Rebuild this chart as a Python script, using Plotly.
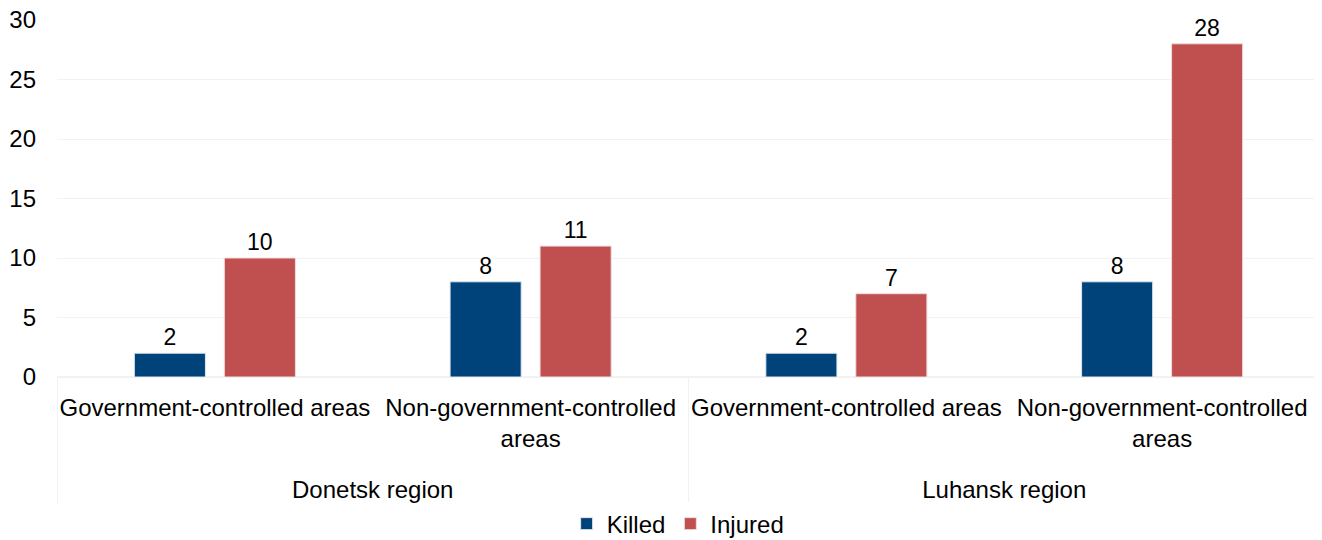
import plotly.graph_objects as go

regions = ["<br>Donetsk region", "<br>Donetsk region", "<br>Luhansk region", "<br>Luhansk region"]
areas = ["Government-controlled areas", "Non-government-controlled<br>areas",
         "Government-controlled areas", "Non-government-controlled<br>areas"]
killed = [2, 8, 2, 8]
injured = [10, 11, 7, 28]

fig = go.Figure()
fig.add_trace(go.Bar(
    x=[regions, areas], y=killed, name="Killed",
    marker=dict(color="#00437A", line=dict(color="#DDE6F0", width=1)),
    text=killed, textposition="outside", cliponaxis=False,
    textfont=dict(size=23),
))
fig.add_trace(go.Bar(
    x=[regions, areas], y=injured, name="Injured",
    marker=dict(color="#C0504F", line=dict(color="#F0DCDC", width=1)),
    text=injured, textposition="outside", cliponaxis=False,
    textfont=dict(size=23),
))

# page body has an 8px margin, so the figure is sized/offset to fill the window
fig.update_layout(
    template="plotly_white",
    width=1314, height=532,
    margin=dict(l=49, r=2, t=12, b=163),
    font=dict(family="Liberation Sans, Arial, sans-serif", size=24, color="#000000"),
    barmode="group",
    bargap=0.43,
    bargroupgap=0.21,
    showlegend=True,
    legend=dict(orientation="h", x=0.51, xanchor="center", xref="container",
                y=0.03, yanchor="middle", yref="container",
                font=dict(size=24), itemwidth=30, traceorder="normal"),
    plot_bgcolor="white",
)
fig.update_yaxes(range=[0, 30], dtick=5, gridcolor="#F2F2F2", zeroline=True,
                 zerolinecolor="#F2F2F2", showline=False, ticks="", ticklabelstandoff=20,
                 tickfont=dict(size=24), automargin=False, ticklabeloverflow="allow")
fig.update_xaxes(showgrid=False, showline=True, linecolor="#F2F2F2", dividercolor="#F2F2F2",
                 dividerwidth=1, ticks="", tickfont=dict(size=24), automargin=False,
                 tickangle=0, ticklabelstandoff=9)

fig.write_html("out.html")
